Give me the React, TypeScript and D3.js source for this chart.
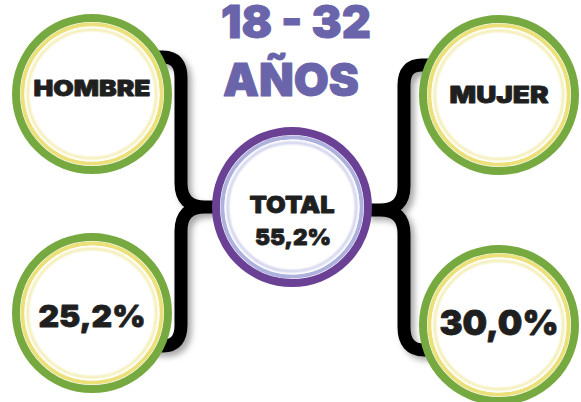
import React from 'react';
import * as d3 from 'd3';

// data
const groups = ['HOMBRE', 'TOTAL', 'MUJER'];
const sideLabels = ['HOMBRE', 'MUJER'];
const sideValues = [25.2, 30.0];
const totalLabel = 'TOTAL';
const totalValue = 55.2;
const titleLines = ['18 - 32', 'AÑOS'];

const W = 581;
const H = 402;
const R = 76;

const fmt = (v: number) => d3.format('.1f')(v).replace('.', ',') + '%';

const x = d3.scaleOrdinal<string, number>().domain(groups).range([92, 292, 499]);
const yLeft = d3.scaleOrdinal<string, number>().domain(['label', 'value']).range([94, 313]);
const yRight = d3.scaleOrdinal<string, number>().domain(['label', 'value']).range([95, 325]);
const yCenter = 207;

const font = 'Inter, "Open Sans", sans-serif';

const Ring = ({ cx, cy, outer, inner }: { cx: number; cy: number; outer: string; inner: string }) => (
  <g>
    <circle cx={cx} cy={cy} r={R} fill="#fff" stroke={outer} strokeWidth={8} />
    <circle cx={cx} cy={cy} r={69.5} fill="none" stroke={inner} strokeWidth={4} filter="url(#soft)" />
    <circle cx={cx} cy={cy} r={66.5} fill="none" stroke="#fff" strokeWidth={2} />
    <circle cx={cx} cy={cy} r={64.2} fill="none" stroke={inner} strokeWidth={2} opacity={0.8} filter="url(#glow)" />
  </g>
);

const Label = ({ cx, y, text, size, len }: { cx: number; y: number; text: string; size: number; len: number }) => (
  <text
    x={cx}
    y={y}
    textAnchor="middle"
    fontFamily={font}
    fontWeight={900}
    fontSize={size}
    fill="#1f1f1f"
    stroke="#1f1f1f"
    strokeWidth={0.8}
    strokeLinejoin="round"
    textLength={len}
    lengthAdjust="spacingAndGlyphs"
  >
    {text}
  </text>
);

export default function App() {
  const xl = x('HOMBRE');
  const xr = x('MUJER');
  const xc = x('TOTAL');

  // brace paths built from the circle positions
  const lv = xl + 89; // vertical of left brace
  const rv = xr - 95;
  const left = d3.path();
  left.moveTo(xl + 58, yLeft('label') - 37);
  left.lineTo(lv - 18, yLeft('label') - 37);
  left.quadraticCurveTo(lv, yLeft('label') - 37, lv, yLeft('label') - 16);
  left.lineTo(lv, yCenter - 24);
  left.quadraticCurveTo(lv, yCenter, lv + 24, yCenter);
  left.lineTo(xc - R + 2, yCenter);
  left.moveTo(lv + 24, yCenter);
  left.quadraticCurveTo(lv, yCenter, lv, yCenter + 24);
  left.lineTo(lv, yLeft('value') + 12);
  left.quadraticCurveTo(lv, yLeft('value') + 33, lv - 18, yLeft('value') + 33);
  left.lineTo(xl + 58, yLeft('value') + 33);

  const yc2 = yCenter + 3;
  const right = d3.path();
  right.moveTo(xr - 62, yRight('label') - 30);
  right.lineTo(rv + 18, yRight('label') - 30);
  right.quadraticCurveTo(rv, yRight('label') - 30, rv, yRight('label') - 10);
  right.lineTo(rv, yc2 - 24);
  right.quadraticCurveTo(rv, yc2, rv - 24, yc2);
  right.lineTo(xc + R - 2, yc2);
  right.moveTo(rv - 24, yc2);
  right.quadraticCurveTo(rv, yc2, rv, yc2 + 24);
  right.lineTo(rv, yRight('value') + 2);
  right.quadraticCurveTo(rv, yRight('value') + 25, rv + 20, yRight('value') + 25);
  right.lineTo(xr - 62, yRight('value') + 25);

  const ys = [yLeft, yRight];

  return (
    <svg width={W} height={H} style={{ position: 'absolute', left: 0, top: 0, background: '#fff' }}>
      <defs>
        <filter id="shadow" x="-30%" y="-10%" width="160%" height="130%">
          <feDropShadow dx={4} dy={4} stdDeviation={3} floodColor="#000" floodOpacity={0.35} />
        </filter>
        <filter id="soft" x="-10%" y="-10%" width="120%" height="120%">
          <feGaussianBlur stdDeviation={0.6} />
        </filter>
        <filter id="glow" x="-10%" y="-10%" width="120%" height="120%">
          <feGaussianBlur stdDeviation={1.3} />
        </filter>
      </defs>

      {titleLines.map((t, i) => (
        <text
          key={t}
          x={i === 0 ? 296 : 291}
          y={i === 0 ? 38 : 96}
          textAnchor="middle"
          fontFamily={font}
          fontWeight={900}
          fontSize={45}
          fill="#6a64aa"
          stroke="#6a64aa"
          strokeWidth={1}
          strokeLinejoin="round"
          textLength={i === 0 ? 150 : 136}
          lengthAdjust="spacingAndGlyphs"
        >
          {t}
        </text>
      ))}

      <g filter="url(#shadow)">
        <path d={left.toString()} fill="none" stroke="#050505" strokeWidth={13} strokeLinecap="butt" strokeLinejoin="round" />
        <path d={right.toString()} fill="none" stroke="#050505" strokeWidth={13} strokeLinecap="butt" strokeLinejoin="round" />
      </g>

      {sideLabels.map((lab, i) => {
        const cx = x(lab);
        const y = ys[i];
        return (
          <g key={lab}>
            <Ring cx={cx} cy={y('label')} outer="#76aa40" inner="#ebe07a" />
            <Ring cx={cx} cy={y('value')} outer="#76aa40" inner="#ebe07a" />
            <Label cx={cx} y={y('label') + (i === 0 ? 2 : 8)} text={lab} size={i === 0 ? 22 : 23} len={i === 0 ? 117 : 99} />
            <Label cx={cx} y={y('value') + (i === 0 ? 14 : 10)} text={fmt(sideValues[i])} size={i === 0 ? 30 : 34} len={i === 0 ? 107 : 119} />
          </g>
        );
      })}

      <Ring cx={xc} cy={yCenter} outer="#6a4194" inner="#aeb0de" />
      <Label cx={xc} y={yCenter + 6} text={totalLabel} size={23} len={85} />
      <Label cx={xc + 1} y={yCenter + 38} text={fmt(totalValue)} size={22} len={76} />
    </svg>
  );
}
